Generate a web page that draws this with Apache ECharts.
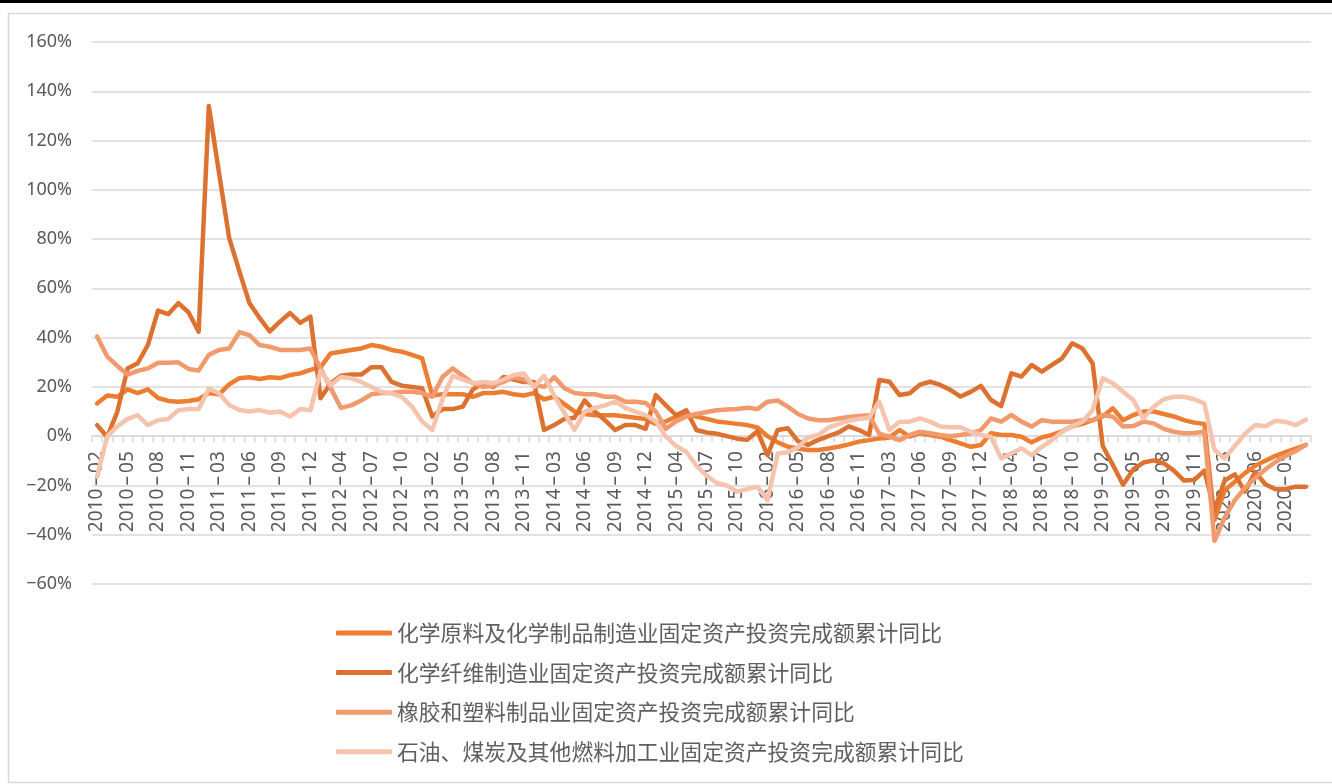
<!DOCTYPE html>
<html>
<head>
<meta charset="utf-8">
<script src="https://cdn.jsdelivr.net/npm/echarts@6/dist/echarts.min.js"></script>
<style>
html,body{margin:0;padding:0;background:#fff;}
#chart{width:1332px;height:784px;}
</style>
</head>
<body>
<div id="chart"></div>
<script>
const categories = [
'2010-02','2010-03','2010-04','2010-05','2010-06','2010-07','2010-08','2010-09','2010-10','2010-11','2010-12',
'2011-02','2011-03','2011-04','2011-05','2011-06','2011-07','2011-08','2011-09','2011-10','2011-11','2011-12',
'2012-02','2012-03','2012-04','2012-05','2012-06','2012-07','2012-08','2012-09','2012-10','2012-11','2012-12',
'2013-02','2013-03','2013-04','2013-05','2013-06','2013-07','2013-08','2013-09','2013-10','2013-11','2013-12',
'2014-02','2014-03','2014-04','2014-05','2014-06','2014-07','2014-08','2014-09','2014-10','2014-11','2014-12',
'2015-02','2015-03','2015-04','2015-05','2015-06','2015-07','2015-08','2015-09','2015-10','2015-11','2015-12',
'2016-02','2016-03','2016-04','2016-05','2016-06','2016-07','2016-08','2016-09','2016-10','2016-11','2016-12',
'2017-02','2017-03','2017-04','2017-05','2017-06','2017-07','2017-08','2017-09','2017-10','2017-11','2017-12',
'2018-02','2018-03','2018-04','2018-05','2018-06','2018-07','2018-08','2018-09','2018-10','2018-11','2018-12',
'2019-02','2019-03','2019-04','2019-05','2019-06','2019-07','2019-08','2019-09','2019-10','2019-11','2019-12',
'2020-02','2020-03','2020-04','2020-05','2020-06','2020-07','2020-08','2020-09','2020-10','2020-11'
];

const seriesNames = [
'化学原料及化学制品制造业固定资产投资完成额累计同比',
'化学纤维制造业固定资产投资完成额累计同比',
'橡胶和塑料制品业固定资产投资完成额累计同比',
'石油、煤炭及其他燃料加工业固定资产投资完成额累计同比'
];

const yTicks = [-60,-40,-20,0,20,40,60,80,100,120,140,160];

const chemRaw = [
13.3,16.5,16,19,17.5,19,15.5,14.3,14,14.3,15,
17.5,17,21,23.5,23.9,23.2,23.9,23.6,24.8,25.5,26.9,
28,33.6,34.3,35,35.6,37,36.3,35,34.3,33,31.6,
16.5,17,17,17,16,17.5,17.5,18,17,16.5,17.5,
15,16,13,10,9,8.5,8.5,8.5,8,7.5,7,
5,6,8,9,8,7,6,5.5,5,4.5,3.5,
0,-2.5,-4.3,-5,-5.6,-5.6,-5,-4.3,-3.3,-2.2,-1.6,
-0.9,-0.5,2.5,-0.2,1.2,0.5,-0.2,-1.6,-2.9,-4.3,-3.6,
1.2,0.5,0.5,-0.2,-2.5,-0.5,0.5,2,4,5,6.5,
8,11.3,6.5,8.6,10,10,9,8,6.5,5.5,5,
-34,-22,-18.5,-15,-12,-10,-8,-6.5,-5,-3.5
];

const chemFiber = [
4.5,-0.3,10,27.5,29.6,37,51,49.5,54,50.3,42.4,
134,107,80.5,67,54,48,42.5,46.5,50,46,48.5,
15.4,21.5,24.5,25,25,28,28,22,20.5,20,19.5,
8,11,11,12,19,21.5,20,24,23,22,22,
2.5,4.5,7,7.5,14.5,10,6.5,2.5,4.5,4.5,3,
16.7,12.5,8.5,10.5,2.5,1.5,1,0,-1,-1.5,2,
-7.7,2.5,3.2,-2,-3.5,-1.5,0,1.5,4,2.5,0.5,
22.8,22.1,16.7,17.4,20.9,22.1,20.8,18.8,16.1,18,20.4,
14.7,12.2,25.5,24.2,28.9,26.2,28.9,31.6,37.7,35.6,29.6,
-4,-11.7,-19.7,-13.5,-10.7,-9.8,-11,-14,-18,-17.8,-14,
-30,-18,-15.5,-22.5,-14.5,-19.5,-21.5,-21.5,-20.5,-20.5
];

const rubberPlastic = [
40.5,32.3,28.5,25,26.5,27.5,29.8,29.8,30,27.3,26.7,
33,35,35.6,42.2,41,37,36.3,35,35,35,35.6,
27.5,19.5,11.5,12.5,14.5,17,17.5,17.5,18,18,17.5,
16,24,27.5,24.5,21.5,20,20.5,22,24,23,21,
20,24,19.5,17.5,17,17,16,16,14,14,13.5,
10,3,6,8,9,9.8,10.5,10.8,11,11.5,11,
14,14.5,12,9,7.2,6.5,6.5,7.2,7.8,8.2,8.5,
1,-0.2,-1.6,0.5,1.8,1.2,0.5,0,0.5,1.2,2.5,
7.2,5.9,8.6,5.9,3.9,6.5,5.9,5.9,5.9,6.5,6.5,
8.6,7.9,3.9,4.1,5.9,5.2,3,1.8,1.2,1.3,1.8,
-42.5,-33,-26,-21,-17,-13.5,-10.5,-8,-6,-3.5
];

const petroleum = [
-16.5,0,4,7,8.5,4.5,6.5,7,10.5,11,11,
19.3,17.4,12.7,10.6,10,10.6,9.5,10,8,11,10.5,
26.5,20.8,24,23.5,22,20,18,17.4,16,12,6,
2.5,15,24.5,23,21.5,22,21.5,23,24.8,25.5,20,
24.5,16.5,9.5,2.5,10,11.5,12.5,14,11.5,10,8.5,
6,-0.2,-4,-6.3,-12,-16,-19,-20,-22.5,-21.5,-20.5,
-26,-7,-6.5,-4.5,-0.5,0.5,3.5,5,6.3,7,7.5,
14,2.5,5.9,5.9,7.2,5.9,3.9,3.6,3.6,1.8,0.5,
-0.2,-9,-7,-4.9,-7.7,-4.3,-1.6,1.8,3.9,5.9,10.6,
23.5,21.5,18,14.7,7.2,11.9,15,16,16,15,13.3,
-5.5,-9,-4,1,4.5,4,6.3,5.8,4.5,6.7
];

const colors = ['#ED7D31','#DD7230','#F19A6E','#F6C3AD'];
const seriesData = [chemRaw, chemFiber, rubberPlastic, petroleum];

const chart = echarts.init(document.getElementById('chart'), null, {renderer:'canvas'});
const gridColor = '#d9d9d9';
const labelFont = 'Noto Sans, DejaVu Sans, sans-serif';
const gridTop = 42, gridBottom = 200, chartH = 784;
const yMin = yTicks[0], yMax = yTicks[yTicks.length - 1];
const plotH = chartH - gridTop - gridBottom;
const zeroOffset = -plotH * (0 - yMin) / (yMax - yMin);

chart.setOption({
  animation: false,
  color: colors,
  graphic: [
    {type:'rect', z:-10, silent:true, shape:{x:0,y:0,width:1332,height:3}, style:{fill:'#000'}},
    {type:'rect', z:-10, silent:true, shape:{x:8.5,y:13.5,width:1340,height:769}, style:{fill:'none',stroke:gridColor,lineWidth:1.5}}
  ],
  grid: {left:92, right:21, top:gridTop, bottom:gridBottom, containLabel:false},
  legend: {
    orient:'vertical', left:336, top:622, padding:0,
    icon:'roundRect', itemWidth:56, itemHeight:5, itemGap:17.6,
    data: seriesNames,
    textStyle:{fontSize:21.8, lineHeight:22, color:'#5f5f5f', fontFamily:'Noto Sans CJK SC, sans-serif'}
  },
  xAxis: {
    type:'category', data:categories, boundaryGap:true, position:'bottom', offset: zeroOffset,
    axisLine:{onZero:false, lineStyle:{color:gridColor, width:1.5}},
    axisTick:{show:true, interval:0, length:6, lineStyle:{color:gridColor, width:1.5}},
    axisLabel:{interval:2, rotate:90, fontSize:19, color:'#595959', margin:15, fontFamily:labelFont,
      formatter: v => v.replace('-', '\u2009\u2013\u2009')}
  },
  yAxis: {
    type:'value', min:yMin, max:yMax, interval:20,
    axisLine:{show:false}, axisTick:{show:false},
    splitLine:{lineStyle:{color:gridColor, width:1.5}},
    axisLabel:{fontSize:18, color:'#595959', margin:20, fontFamily:labelFont,
      formatter: v => (v < 0 ? '\u2212' + (-v) : v) + '%'}
  },
  series: seriesNames.map((name, i) => ({
    name: name, type:'line', data: seriesData[i],
    showSymbol:false, symbol:'none', smooth:false,
    lineStyle:{width:4.5, color:colors[i], cap:'round', join:'round'},
    itemStyle:{color:colors[i]}
  }))
});
</script>
</body>
</html>
